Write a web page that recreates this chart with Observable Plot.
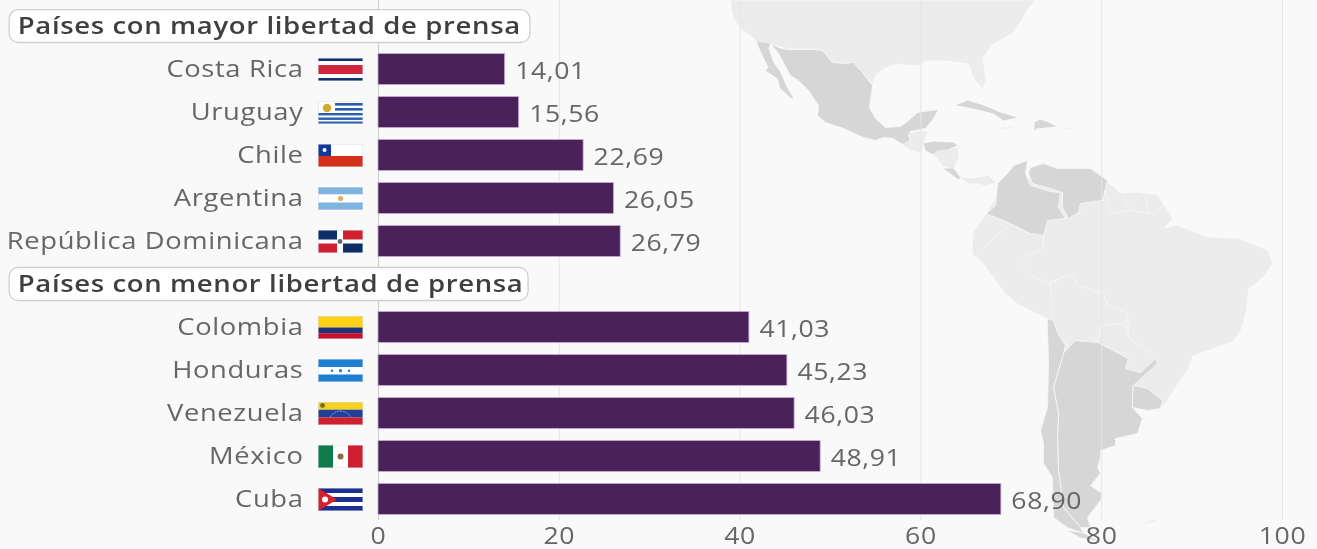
<!DOCTYPE html>
<html>
<head>
<meta charset="utf-8">
<script src="https://cdn.jsdelivr.net/npm/d3@7"></script>
<script src="https://cdn.jsdelivr.net/npm/@observablehq/plot@0.6"></script>
<style>
html,body{margin:0;padding:0;background:#f9f9f9;overflow:hidden}
#wrap{position:relative;width:1317px;height:549px;overflow:hidden;background:#f9f9f9;filter:blur(0.4px)}
#wrap svg{position:absolute;left:0;top:0;background:transparent}
#wrap svg.map{filter:blur(0.5px)}
</style>
</head>
<body>
<div id="wrap"></div>
<script>
const headerTop = "Países con mayor libertad de prensa";
const headerBottom = "Países con menor libertad de prensa";
const topCountries = ["Costa Rica","Uruguay","Chile","Argentina","República Dominicana"];
const topValues = [14.01,15.56,22.69,26.05,26.79];
const bottomCountries = ["Colombia","Honduras","Venezuela","México","Cuba"];
const bottomValues = [41.03,45.23,46.03,48.91,68.90];
const xTicks = [0,20,40,60,80,100];

const svgFlag = body => "data:image/svg+xml," + encodeURIComponent(`<svg xmlns="http://www.w3.org/2000/svg" viewBox="0 0 45 23" preserveAspectRatio="none">${body}<rect x="0.25" y="0.25" width="44.5" height="22.5" fill="none" stroke="#dcdce4" stroke-width="0.5"/></svg>`);
const r = (x,y,w,h,f) => `<rect x="${x}" y="${y}" width="${w}" height="${h}" fill="${f}"/>`;
const flagArt = {
  "Costa Rica": r(0,0,45,23,"#fff")+r(0,0,45,3,"#12306e")+r(0,20,45,3,"#12306e")+r(0,7,45,9,"#d0263a"),
  "Uruguay": r(0,0,45,23,"#fff")+[2,7].map(y=>r(17,y,28,2.6,"#2a5db0")).join("")+[12,16.5,20.5].map(y=>r(0,y,45,2.4,"#2a5db0")).join("")+'<circle cx="9" cy="7" r="4.2" fill="#d2a92f"/>',
  "Chile": r(0,0,45,12,"#fff")+r(0,12,45,11,"#d5301c")+r(0,0,13,12,"#0f3a9c")+'<circle cx="6.5" cy="6" r="2" fill="#fff"/>',
  "Argentina": r(0,0,45,7.5,"#7fb4e0")+r(0,7.5,45,8,"#fff")+r(0,15.5,45,7.5,"#7fb4e0")+'<circle cx="22.5" cy="11.5" r="2.6" fill="#e0b060"/>',
  "República Dominicana": r(0,0,45,23,"#fff")+r(0,0,19,9.5,"#0d2f66")+r(25,0,20,9.5,"#d1202f")+r(0,13.5,19,9.5,"#d1202f")+r(25,13.5,20,9.5,"#0d2f66")+'<circle cx="22" cy="11.5" r="2.4" fill="#667"/>',
  "Colombia": r(0,0,45,11.5,"#fcd116")+r(0,11.5,45,5.7,"#1c3578")+r(0,17.2,45,5.8,"#c8102e"),
  "Honduras": r(0,0,45,23,"#1f7fd1")+r(0,8,45,7.5,"#fff")+'<circle cx="22.5" cy="11.7" r="1.6" fill="#1f7fd1"/><circle cx="14" cy="11.7" r="1.2" fill="#1f7fd1"/><circle cx="31" cy="11.7" r="1.2" fill="#1f7fd1"/>',
  "Venezuela": r(0,0,45,7.7,"#f6d21c")+r(0,7.7,45,7.7,"#21409a")+r(0,15.4,45,7.6,"#cf2030")+'<circle cx="4.5" cy="3.5" r="2.4" fill="#7a6a20"/><path d="M12 15 Q22 3 33 15" fill="none" stroke="#aab8e8" stroke-width="0.8" stroke-dasharray="2 1"/>',
  "México": r(0,0,15,23,"#0f7a4a")+r(15,0,15,23,"#fff")+r(30,0,15,23,"#cf1f33")+'<circle cx="22.5" cy="11.5" r="3" fill="#8a6a3a"/>',
  "Cuba": r(0,0,45,23,"#fff")+[0,9,18].map(y=>r(0,y,45,5,"#1c2f90")).join("")+'<path d="M0 0 L19 11.5 L0 23 Z" fill="#d5202f"/><circle cx="7" cy="11.5" r="3" fill="#fff"/>'
};

// Background map outlines (picture x, picture y)
const northAmerica = [[730,0],[733,17],[740,28],[753,37],[756,41],[777,45],[787,48],[812,48],[823,50],[832,62],[845,63],[853,62],[862,72],[872,83],[875,75],[883,68],[897,63],[917,65],[927,60],[947,60],[968,63],[973,77],[982,88],[985,80],[982,57],[993,43],[1013,32],[1022,17],[1028,7],[1035,0]];
const southAmerica = [[986,213],[1000,190],[1050,170],[1107,182],[1120,193],[1137,192],[1157,195],[1165,207],[1172,218],[1163,228],[1177,225],[1207,237],[1237,238],[1267,250],[1272,263],[1262,277],[1248,288],[1245,313],[1240,330],[1233,340],[1207,350],[1192,355],[1188,368],[1174,388],[1163,405],[1133,408],[1100,380],[1047,340],[1047,318],[1017,303],[1005,293],[983,263],[972,253],[973,232]];
const guatemala = [[902,144],[910,140],[908,133],[917,131],[927,131],[923,143],[920,152],[910,150]];
const nicaragua = [[933,154],[937,150],[947,149],[957,147],[958,157],[953,168],[943,166]];
const panama = [[960,177],[968,178],[980,177],[988,175],[995,182],[985,185],[977,183],[968,183]];
const baja = [[756,41],[770,43],[768,48],[773,62],[780,72],[787,88],[793,98],[791,98],[780,88],[777,78],[765,70],[768,67],[762,55]];
const mexico = [[770,43],[778,47],[787,49],[812,49],[822,50],[832,62],[845,63],[853,62],[862,72],[872,85],[869,107],[875,118],[885,127],[900,126],[908,120],[917,112],[938,109],[933,118],[925,128],[910,131],[908,135],[910,140],[902,144],[893,138],[883,137],[875,140],[863,137],[843,128],[825,122],[817,115],[818,105],[808,90],[798,80],[790,75],[778,53]];
const honduras = [[923,143],[933,141],[953,142],[957,145],[947,149],[937,150],[933,154],[925,150]];
const costaRica = [[943,168],[953,168],[960,177],[958,179],[950,173]];
const cuba = [[955,105],[967,100],[983,105],[1000,112],[1017,117],[1003,120],[993,113],[977,109],[963,106]];
const hispaniola = [[1034,122],[1040,119],[1048,122],[1056,126],[1046,127],[1036,128],[1034,131]];
const colombia = [[986,213],[995,205],[997,183],[1007,173],[1013,165],[1027,160],[1025,173],[1030,185],[1050,191],[1060,192],[1058,207],[1065,218],[1047,220],[1043,235],[1030,233],[1010,223]];
const venezuela = [[1030,167],[1043,163],[1057,168],[1090,168],[1107,180],[1102,200],[1080,203],[1078,212],[1068,218],[1062,207],[1062,192],[1050,188],[1032,183],[1028,173]];
const argentina = [[1068,347],[1075,340],[1097,342],[1128,358],[1125,368],[1140,372],[1155,358],[1157,363],[1133,385],[1132,407],[1142,418],[1137,433],[1115,438],[1115,445],[1100,450],[1100,457],[1097,467],[1100,473],[1090,485],[1102,493],[1100,500],[1087,517],[1090,527],[1080,527],[1063,507],[1058,470],[1057,437],[1058,413],[1053,387],[1063,353]];
const chile = [[1047,318],[1053,320],[1057,332],[1065,345],[1063,353],[1053,387],[1058,413],[1057,437],[1058,470],[1063,507],[1080,527],[1083,533],[1067,527],[1053,517],[1052,477],[1043,463],[1043,443],[1040,430],[1047,407],[1048,363]];
const uruguay = [[1133,385],[1147,388],[1162,400],[1160,408],[1147,410],[1132,407]];
const fuego = [[1067,530],[1083,533],[1097,540],[1080,537]];
const faintIslands = [[[1000,127],[1012,126],[1012,128],[1000,129]],[[1065,127],[1073,127],[1073,129],[1065,129]],[[1142,522],[1155,518],[1155,521],[1143,524]]];
const borders = [
  [[983,248],[993,238],[1008,225]],
  [[1043,235],[1043,247],[1023,257],[1018,263],[1030,275],[1050,283],[1052,313],[1047,320]],
  [[1050,282],[1072,273],[1077,285],[1103,293],[1107,305],[1127,313],[1128,337],[1147,350],[1157,358]],
  [[1100,325],[1123,323],[1128,335]],
  [[1105,190],[1110,213],[1130,210],[1153,213],[1163,205]],
  [[1123,197],[1130,210]],[[1145,193],[1147,210]],
  [[1102,200],[1105,190]],
  [[1065,218],[1080,212]],
  [[1063,340],[1068,347]],[[1097,342],[1100,325]]
];

const asTable = shapes => shapes.flatMap((pts,i) => pts.map(([x,y]) => ({x,y,i})));
const lightShapes = asTable([northAmerica,southAmerica,guatemala,nicaragua,panama]);
const darkLand = asTable([mexico,colombia,venezuela,argentina,chile,uruguay]);
const darkSmall = asTable([baja,honduras,costaRica,cuba,hispaniola,fuego]);
const faintShapes = asTable(faintIslands);
const borderLines = asTable(borders);

const mapPlot = Plot.plot({
  width:1317,height:549,margin:0,className:"map",
  x:{domain:[0,1317],range:[0,1317],axis:null},
  y:{domain:[0,549],range:[0,549],axis:null},
  style:{background:"transparent"},
  marks:[
    Plot.line(lightShapes,{x:"x",y:"y",z:"i",fill:"#ececec",stroke:"none",curve:"linear-closed"}),
    Plot.line(faintShapes,{x:"x",y:"y",z:"i",fill:"#f1f1f1",stroke:"none",curve:"linear-closed"}),
    Plot.line(borderLines,{x:"x",y:"y",z:"i",stroke:"#f6f6f6",strokeWidth:1,curve:"linear"}),
    Plot.line(darkSmall,{x:"x",y:"y",z:"i",fill:"#d6d6d6",stroke:"none",curve:"linear-closed"}),
    Plot.line(darkLand,{x:"x",y:"y",z:"i",fill:"#d6d6d6",stroke:"#f6f6f6",strokeWidth:0.9,curve:"linear-closed"})
  ]
});

const rows = [
  ...topCountries.map((c,i)=>({country:c,value:topValues[i]})),
  ...bottomCountries.map((c,i)=>({country:c,value:bottomValues[i]}))
];
const headers = [headerTop,headerBottom];
const domain = [headerTop,...topCountries,headerBottom,...bottomCountries];
const fmt = v => v.toFixed(2).replace(".",",");
const fontFamily = "'Open Sans', sans-serif";

const chart = Plot.plot({
  width:1317,height:549,
  marginLeft:378,marginRight:35,marginTop:0,marginBottom:29,
  x:{domain:[0,100],axis:null},
  y:{domain,range:[-1.5,526.5],padding:0.28,round:false,axis:null},
  style:{background:"transparent",fontFamily,letterSpacing:"0.55px"},
  marks:[
    Plot.ruleX(xTicks.slice(1),{stroke:"#e6e6e6",strokeWidth:1}),
    Plot.ruleX([0],{stroke:"#d0d0d0",strokeWidth:1.2}),
    Plot.barX(headers,{y:d=>d,x1:()=>-40.8,x2:d=>d===headerTop?16.8:16.6,rx:9,fill:"#fff",stroke:"#cfcfcf",strokeWidth:1.3,insetTop:-1,insetBottom:-1}),
    Plot.text(headers,{y:d=>d,x:()=>-39.9,text:d=>d,textAnchor:"start",fontSize:24,fontWeight:600,fill:"#3f3f3f"}),
    Plot.barX(rows,{y:"country",x1:()=>0,x2:"value",fill:"#4a2259",stroke:"#c9abd4",strokeWidth:0.8}),
    Plot.text(rows,{y:"country",x:"value",dx:10,text:d=>fmt(d.value),textAnchor:"start",fontSize:24,fill:"#666",dy:1.5}),
    Plot.image(rows,{y:"country",x:()=>-4.2,src:d=>svgFlag(flagArt[d.country]),width:45,height:23,preserveAspectRatio:"none"}),
    Plot.axisY({ticks:[...topCountries,...bottomCountries],tickSize:0,tickPadding:75,fontSize:24,color:"#666",anchor:"left",label:null}),
    Plot.axisX({ticks:xTicks,tickSize:0,tickPadding:6,fontSize:24,color:"#666",anchor:"bottom",label:null,tickFormat:d=>String(d)})
  ]
});

// The reference's lettering is stretched sideways: widen each text about its own anchor
const stretch = (group, k) => d3.select(group).selectAll("text")
  .attr("transform", function() { return `${this.getAttribute("transform") || ""} scale(${k},1)`; });
const textGroups = chart.querySelectorAll('g[aria-label="text"]');
stretch(textGroups[0],1.146);
stretch(textGroups[1],1.108);
stretch(chart.querySelector('g[aria-label="y-axis tick label"]'),1.14);
stretch(chart.querySelector('g[aria-label="x-axis tick label"]'),1.11);

const wrap = document.getElementById("wrap");
wrap.append(mapPlot, chart);
</script>
</body>
</html>
